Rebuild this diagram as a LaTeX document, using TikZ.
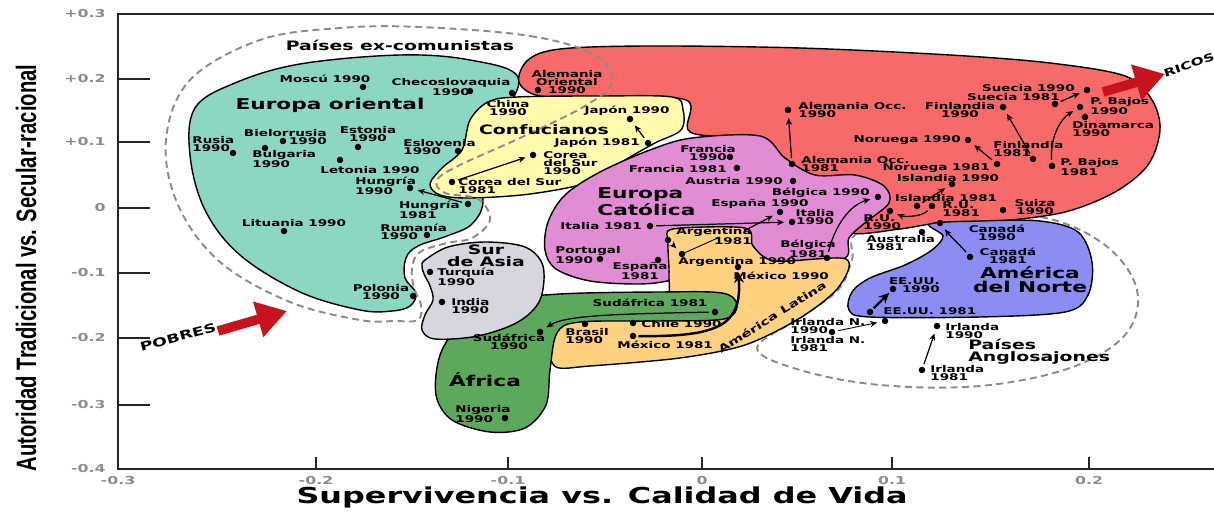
\documentclass[tikz,border=0pt]{standalone}
\usepackage{fontspec}
\usetikzlibrary{arrows.meta}
\newfontfamily\lblfont{DejaVu Sans}[FakeStretch=1.45]
\newfontfamily\yfont{Liberation Sans}[FakeStretch=0.72]
\definecolor{tealfill}{RGB}{140,214,196}
\definecolor{redfill}{RGB}{248,106,106}
\definecolor{yellowfill}{RGB}{255,250,172}
\definecolor{pinkfill}{RGB}{226,140,214}
\definecolor{orangefill}{RGB}{255,210,130}
\definecolor{greenfill}{RGB}{92,168,92}
\definecolor{grayfill}{RGB}{214,214,222}
\definecolor{bluefill}{RGB}{140,140,245}
\definecolor{arrowred}{RGB}{200,18,30}

\begin{document}
\begin{tikzpicture}[x=0.02cm,y=-0.02cm,
  lbl/.style={font=\lblfont\bfseries\fontsize{5.3}{4.6}\selectfont,inner sep=0pt,align=center},
  zone/.style={font=\lblfont\bfseries\fontsize{8.5}{8}\selectfont,inner sep=0pt,align=center},
  subzone/.style={font=\lblfont\bfseries\fontsize{7.4}{6.6}\selectfont,inner sep=0pt,align=center},
  dot/.style={circle,fill=black,inner sep=0pt,minimum size=0.13cm},
  region/.style={draw=black,line width=0.8pt},
  bloc/.style={draw=black!45,line width=1.1pt,dash pattern=on 4pt off 2.5pt},
  trend/.style={-{Stealth[length=4pt,width=3.5pt]},line width=0.7pt,shorten >=2.5pt,shorten <=1.5pt},
  fat/.style={-{Stealth[length=6pt,width=5.5pt]},line width=1.4pt,shorten >=1pt,shorten <=1pt},
  bigarrow/.style={draw=arrowred,line width=0.19cm,-{Triangle[length=0.6cm,width=0.7cm]}},
  ticklbl/.style={font=\lblfont\bfseries\fontsize{6.2}{6}\selectfont,text=black!45,inner sep=0pt},
  axis/.style={draw=black!85,line width=1.1pt}]
\fill[white] (0,0) rectangle (1214,516);
\useasboundingbox (0,0) rectangle (1214,516);

\draw[bloc] plot[smooth cycle,tension=0.6] coordinates {(860,232) (950,220) (1040,217) (1105,245) (1137,290) (1125,335) (1070,368) (980,386) (880,385) (800,370) (757,348) (800,318) (838,290) (852,260)};

\draw[region,fill=tealfill] plot[smooth cycle,tension=0.6] coordinates {(195,108) (235,83) (300,64) (400,55) (470,60) (518,77) (500,120) (470,165) (483,200) (472,224) (447,236) (418,246) (406,258) (405,278) (416,293) (410,306) (392,311) (360,310) (300,292) (240,255) (205,210) (190,155)};
\draw[region,fill=redfill] plot[smooth cycle,tension=0.55] coordinates {(519,82) (528,60) (560,49) (650,46) (800,48) (950,55) (1050,63) (1125,76) (1152,100) (1160,130) (1148,165) (1115,192) (1065,212) (1000,221) (940,223) (900,229) (852,233) (846,212) (820,185) (780,165) (750,140) (690,132) (686,100) (600,97) (540,96)};
\draw[region,fill=yellowfill] plot[smooth cycle,tension=0.55] coordinates {(517,97) (600,96) (672,97) (683,110) (681,130) (655,143) (625,160) (590,182) (530,194) (470,198) (440,195) (430,184) (442,168) (462,150) (470,120) (488,102)};
\draw[region,fill=pinkfill] plot[smooth cycle,tension=0.55] coordinates {(545,250) (548,222) (565,195) (600,172) (650,150) (692,138) (760,136) (785,158) (815,175) (855,175) (884,186) (889,203) (866,222) (849,238) (845,258) (800,265) (760,263) (700,270) (672,280) (640,284) (590,281) (556,269)};
\draw[region,fill=orangefill] plot[smooth cycle,tension=0.5] coordinates {(668,242) (673,229) (745,228) (753,246) (775,261) (846,259) (838,288) (800,318) (745,345) (680,358) (590,366) (556,367) (548,345) (552,320) (620,312) (665,300) (669,275)};
\draw[region,fill=greenfill] plot[smooth cycle,tension=0.55] coordinates {(495,302) (560,294) (660,292) (722,293) (737,305) (724,319) (660,321) (580,322) (557,333) (550,370) (546,405) (525,428) (490,432) (452,420) (436,395) (440,355) (460,325)};
\draw[region,fill=grayfill] plot[smooth cycle,tension=0.55] coordinates {(425,260) (448,247) (485,242) (525,247) (543,266) (540,300) (518,322) (478,336) (435,339) (422,330) (425,315) (433,300) (430,286) (424,274) (422,266)};
\draw[region,fill=bluefill] plot[smooth cycle,tension=0.55] coordinates {(930,224) (980,221) (1040,221) (1078,232) (1092,262) (1088,295) (1065,312) (980,317) (870,317) (849,310) (852,292) (870,278) (905,265) (932,250) (943,236)};

\draw[bloc] plot[smooth cycle,tension=0.6] coordinates {(420,27) (530,36) (595,55) (612,82) (585,106) (520,138) (460,165) (437,180) (445,193) (478,199) (490,220) (472,238) (447,243) (420,252) (412,268) (414,288) (421,305) (418,320) (395,321) (360,320) (290,302) (220,262) (178,205) (166,140) (190,80) (260,40) (340,28)};

\draw[axis] (118,14) -- (1214,14);
\draw[axis] (118,13) -- (118,469) -- (1214,469);
\foreach \yy in {79,142,208,273,338,405} \draw[axis] (118,\yy) -- (150,\yy);
\foreach \xx in {316,508,702,892,1089} \draw[axis] (\xx,469) -- (\xx,457);
\foreach \yy/\t [count=\i] in {14/+0.3,79/+0.2,142/+0.1,208/0,273/-0.1,338/-0.2,405/-0.3,469/-0.4}
  \node[ticklbl,anchor=east] (yt\i) at (106,\yy) {\t};
\foreach \xx/\t [count=\i] in {118/-0.3,316/-0.2,508/-0.1,702/0,892/0.1,1089/0.2}
  \node[ticklbl] (xt\i) at (\xx,481) {\t};
\node[font=\lblfont\bfseries\fontsize{12.5}{12}\selectfont,inner sep=0pt] (xtitle) at (602,497) {Supervivencia vs. Calidad de Vida};
\node[font=\yfont\bfseries\fontsize{16}{16}\selectfont,inner sep=0pt,rotate=90] (ytitle) at (26,268) {Autoridad Tradicional vs. Secular-racional};

\coordinate (pobtail) at (218,331);
\coordinate (pobtip) at (287,311);
\draw[bigarrow] (pobtail) -- (pobtip);
\node[font=\lblfont\bfseries\fontsize{6.8}{6.8}\selectfont,inner sep=0pt,rotate=15] (pobT) at (178,337) {POBRES};
\coordinate (rictail) at (1103,92);
\coordinate (rictip) at (1165,74);
\draw[bigarrow] (rictail) -- (rictip);
\node[font=\lblfont\bfseries\fontsize{6}{6}\selectfont,inner sep=0pt,rotate=19] (ricT) at (1189,65) {RICOS};

\node[subzone] (excomT) at (400,45) {Países ex-comunistas};
\node[zone] (eoT) at (330,105) {Europa oriental};
\node[subzone] (confT) at (544,130) {Confucianos};
\node[subzone] (surT) at (486,256) {Sur\\de Asia};
\node[zone,anchor=west,align=left] (ecT) at (597,202) {Europa\\Católica};
\node[zone] (afT) at (485,380) {África};
\node[zone] (anT) at (1030,280) {América\\del Norte};
\node[subzone,anchor=west,align=left] (angT) at (968,352) {Países\\Anglosajones};
\node[font=\lblfont\bfseries\fontsize{5.8}{5.8}\selectfont,inner sep=0pt,rotate=32] (alT) at (772,317) {América Latina};

\node[dot] (mos) at (363,87) {};  \node[lbl] (mosT) at (325,79) {Moscú 1990};
\node[dot] (che) at (470,91) {};  \node[lbl] (cheT) at (451,87) {Checoslovaquia\\1990};
\node[dot] (chn) at (512,93) {};  \node[lbl] (chnT) at (508,108) {China\\1990};
\node[dot] (rus) at (233,153) {}; \node[lbl,anchor=west,align=left] (rusT) at (192,144) {Rusia\\1990};
\node[dot] (bie) at (283,141) {}; \node[lbl,anchor=east,align=right] (bieT) at (327,137) {Bielorrusia\\1990};
\node[dot] (bul) at (265,148) {}; \node[lbl,anchor=west,align=left] (bulT) at (252,159) {Bulgaria\\1990};
\node[dot] (est) at (358,147) {}; \node[lbl] (estT) at (368,134) {Estonia\\1990};
\node[dot] (let) at (340,160) {}; \node[lbl] (letT) at (370,170) {Letonia 1990};
\node[dot] (esl) at (458,151) {}; \node[lbl,anchor=west,align=left] (eslT) at (403,147) {Eslovenia\\1990};
\node[dot] (hu90) at (410,188) {}; \node[lbl,anchor=west,align=left] (hu90T) at (355,186) {Hungría\\1990};
\node[dot] (hu81) at (468,204) {}; \node[lbl,anchor=east,align=left] (hu81T) at (460,210) {Hungría\\1981};
\node[dot] (lit) at (284,231) {}; \node[lbl] (litT) at (294,223) {Lituania 1990};
\node[dot] (rum) at (427,235) {}; \node[lbl,anchor=west,align=left] (rumT) at (380,232) {Rumanía\\1990};
\node[dot] (pol) at (413,296) {}; \node[lbl] (polT) at (381,292) {Polonia\\1990};
\node[dot] (tur) at (430,272) {}; \node[lbl,anchor=west,align=left] (turT) at (437,277) {Turquía\\1990};
\node[dot] (ind) at (442,302) {}; \node[lbl,anchor=west,align=left] (indT) at (451,306) {India\\1990};

\node[dot] (jp90) at (630,119) {}; \node[lbl] (jp90T) at (627,111) {Japón 1990};
\node[dot] (jp81) at (648,143) {}; \node[lbl,anchor=east] (jp81T) at (640,143) {Japón 1981};
\node[dot] (ko90) at (533,155) {}; \node[lbl,anchor=west,align=left] (ko90T) at (543,163) {Corea\\del Sur\\1990};
\node[dot] (ko81) at (452,182) {}; \node[lbl,anchor=west,align=left] (ko81T) at (458,186) {Corea del Sur\\1981};
\node[dot] (go90) at (538,90) {};  \node[lbl] (go90T) at (567,82) {Alemania\\Oriental\\1990};

\node[dot] (fr90) at (730,157) {}; \node[lbl] (fr90T) at (708,153) {Francia\\1990};
\node[dot] (fr81) at (737,168) {}; \node[lbl,anchor=east] (fr81T) at (727,169) {Francia 1981};
\node[dot] (aus) at (793,181) {};  \node[lbl,anchor=east] (ausT) at (783,181) {Austria 1990};
\node[dot] (be90) at (878,197) {}; \node[lbl,anchor=east] (be90T) at (870,193) {Bélgica 1990};
\node[dot] (es90) at (780,212) {}; \node[lbl] (es90T) at (760,204) {España 1990};
\node[dot] (it81) at (650,226) {}; \node[lbl,anchor=east] (it81T) at (642,226) {Italia 1981};
\node[dot] (it90) at (792,222) {}; \node[lbl] (it90T) at (815,217) {Italia\\1990};
\node[dot] (por) at (600,259) {};  \node[lbl,anchor=west,align=left] (porT) at (555,255) {Portugal\\1990};
\node[dot] (es81) at (658,260) {}; \node[lbl] (es81T) at (640,271) {España\\1981};
\node[dot] (be81) at (827,258) {}; \node[lbl] (be81T) at (808,249) {Bélgica\\1981};

\node[dot] (ar81) at (668,240) {}; \node[lbl,anchor=east,align=right] (ar81T) at (752,236) {Argentina\\1981};
\node[dot] (ar90) at (682,254) {}; \node[lbl,anchor=west] (ar90T) at (678,262) {Argentina 1990};
\node[dot] (mx90) at (738,267) {}; \node[lbl,anchor=west] (mx90T) at (733,276) {México 1990};
\node[dot] (mx81) at (633,336) {}; \node[lbl,anchor=west] (mx81T) at (617,345) {México 1981};
\node[dot] (chi) at (633,323) {};  \node[lbl,anchor=west] (chiT) at (641,324) {Chile 1990};
\node[dot] (bra) at (585,324) {};  \node[lbl,anchor=west,align=left] (braT) at (565,336) {Brasil\\1990};
\node[dot] (sa81) at (715,312) {}; \node[lbl] (sa81T) at (650,303) {Sudáfrica 1981};
\node[dot] (sa90) at (540,332) {}; \node[lbl] (sa90T) at (509,342) {Sudáfrica\\1990};
\node[dot] (nig) at (505,418) {};  \node[lbl,anchor=west,align=left] (nigT) at (455,414) {Nigeria\\1990};

\node[dot] (wg90) at (788,110) {}; \node[lbl,anchor=west,align=left] (wg90T) at (798,110) {Alemania Occ.\\1990};
\node[dot] (wg81) at (792,164) {}; \node[lbl,anchor=west,align=left] (wg81T) at (801,164) {Alemania Occ.\\1981};
\node[dot] (se90) at (1087,90) {}; \node[lbl,anchor=east] (se90T) at (1075,88) {Suecia 1990};
\node[dot] (se81) at (1055,104) {}; \node[lbl,anchor=east] (se81T) at (1060,97) {Suecia 1981};
\node[dot] (nl90) at (1080,107) {}; \node[lbl,anchor=west,align=left] (nl90T) at (1090,106) {P. Bajos\\1990};
\node[dot] (dk) at (1085,117) {};  \node[lbl,anchor=west,align=left] (dkT) at (1072,129) {Dinamarca\\1990};
\node[dot] (fi90) at (1003,107) {}; \node[lbl] (fi90T) at (960,110) {Finlandia\\1990};
\node[dot] (fi81) at (1033,159) {}; \node[lbl,anchor=west,align=left] (fi81T) at (993,149) {Finlandia\\1981};
\node[dot] (no90) at (968,140) {}; \node[lbl,anchor=east] (no90T) at (961,140) {Noruega 1990};
\node[dot] (no81) at (997,164) {}; \node[lbl,anchor=east] (no81T) at (990,168) {Noruega 1981};
\node[dot] (nl81) at (1052,166) {}; \node[lbl,anchor=west,align=left] (nl81T) at (1060,167) {P. Bajos\\1981};
\node[dot] (is90) at (952,184) {}; \node[lbl] (is90T) at (948,178) {Islandia 1990};
\node[dot] (is81) at (917,206) {}; \node[lbl] (is81T) at (946,198) {Islandia 1981};
\node[dot] (uk81) at (932,206) {}; \node[lbl,anchor=west,align=left] (uk81T) at (942,209) {R.U.\\1981};
\node[dot] (uk90) at (890,211) {}; \node[lbl,anchor=west,align=left] (uk90T) at (863,222) {R.U.\\1990};
\node[dot] (ch) at (1003,210) {};  \node[lbl] (chT) at (1035,207) {Suiza\\1990};

\node[dot] (au) at (922,232) {};   \node[lbl,anchor=west,align=left] (auT) at (866,243) {Australia\\1981};
\node[dot] (ca90) at (940,223) {}; \node[lbl] (ca90T) at (997,233) {Canadá\\1990};
\node[dot] (ca81) at (970,257) {}; \node[lbl] (ca81T) at (1008,256) {Canadá\\1981};
\node[dot] (us90) at (893,289) {}; \node[lbl,anchor=east,align=right] (us90T) at (940,285) {EE.UU.\\1990};
\node[dot] (us81) at (870,312) {}; \node[lbl,anchor=west] (us81T) at (883,311) {EE.UU. 1981};
\node[dot] (ni81) at (832,332) {}; \node[dot] (ni90) at (885,321) {};
\node[lbl,anchor=west,align=left] (ni90T) at (790,326) {Irlanda N.\\1990};
\node[lbl,anchor=west,align=left] (ni81T) at (790,344) {Irlanda N.\\1981};
\node[dot] (ie90) at (937,326) {}; \node[lbl,anchor=west,align=left] (ie90T) at (945,331) {Irlanda\\1990};
\node[dot] (ie81) at (922,370) {}; \node[lbl,anchor=west,align=left] (ie81T) at (930,373) {Irlanda\\1981};

\coordinate (esstart) at (742,232);
\coordinate (arglead) at (720,237);
\draw[trend] (hu81) -- (hu90);
\draw[trend] (ko81) -- (ko90);
\draw[trend] (jp81) -- (jp90);
\draw[trend] (it81) -- (it90);
\draw[trend] (esstart) -- (es90);
\draw[trend] (be81) .. controls (835,225) and (850,205) .. (be90);
\draw[trend] (ar81) -- (ar90);
\draw[line width=0.5pt] (ar90) -- (arglead);
\draw[fat] (mx81) .. controls (720,337) and (742,325) .. (mx90);
\draw[trend] (sa81) .. controls (620,314) and (565,315) .. (sa90);
\draw[trend] (wg81) -- (wg90);
\draw[trend] (se81) -- (se90);
\draw[trend] (fi81) -- (fi90);
\draw[trend] (no81) -- (no90);
\draw[trend] (nl81) .. controls (1050,135) and (1062,118) .. (nl90);
\draw[trend] (is81) -- (is90);
\draw[trend] (uk81) .. controls (922,217) and (904,217) .. (uk90);
\draw[trend] (ca81) .. controls (960,245) and (950,236) .. (ca90);
\draw[fat] (us81) -- (us90);
\draw[trend,line width=0.5pt] (ni81) -- (ni90);
\draw[trend] (ie81) -- (ie90);
\end{tikzpicture}
\end{document}
